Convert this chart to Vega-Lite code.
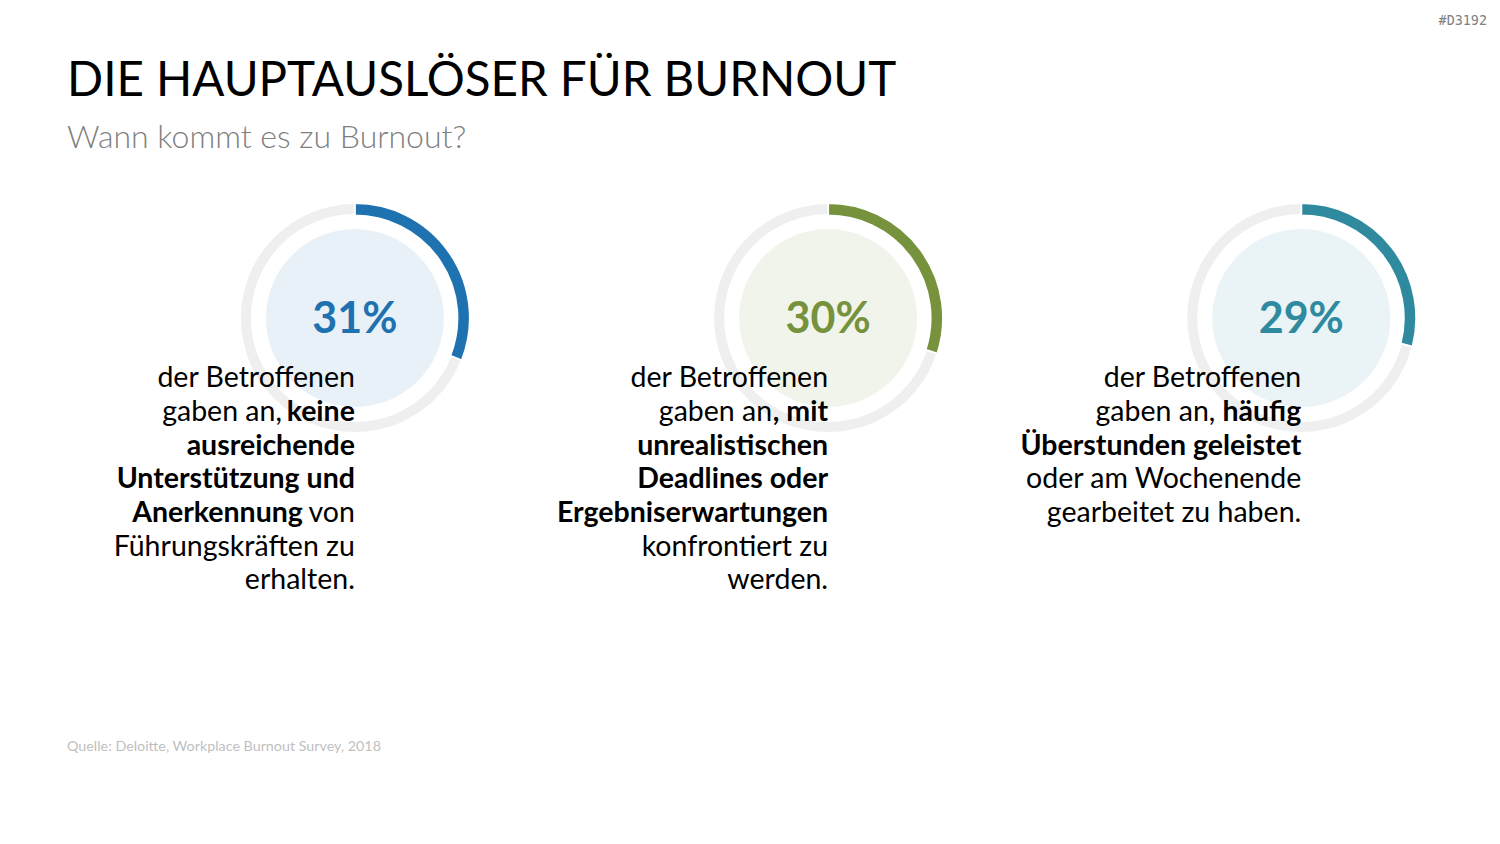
{
  "$schema": "https://vega.github.io/schema/vega-lite/v6.json",
  "width": 1500,
  "height": 844,
  "autosize": "none",
  "padding": 0,
  "background": "#ffffff",
  "config": {"view": {"stroke": null}, "text": {"font": "Lato"}},
  "datasets": {
    "findings": [
      {"panel": 1, "share": 0.31},
      {"panel": 2, "share": 0.30},
      {"panel": 3, "share": 0.29}
    ],
    "lines": [
      {"panel": 1, "line": 1, "text": "der Betroffenen", "emphasis": false},
      {"panel": 1, "line": 2, "text": "gaben an,", "emphasis": false, "lead": true},
      {"panel": 1, "line": 2, "text": "keine", "emphasis": true},
      {"panel": 1, "line": 3, "text": "ausreichende", "emphasis": true},
      {"panel": 1, "line": 4, "text": "Unterstützung und", "emphasis": true},
      {"panel": 1, "line": 5, "text": "Anerkennung", "emphasis": true, "lead": true},
      {"panel": 1, "line": 5, "text": "von", "emphasis": false},
      {"panel": 1, "line": 6, "text": "Führungskräften zu", "emphasis": false},
      {"panel": 1, "line": 7, "text": "erhalten.", "emphasis": false},
      {"panel": 2, "line": 1, "text": "der Betroffenen", "emphasis": false},
      {"panel": 2, "line": 2, "text": "gaben an", "emphasis": false, "lead": true},
      {"panel": 2, "line": 2, "text": ", mit", "emphasis": true},
      {"panel": 2, "line": 3, "text": "unrealistischen", "emphasis": true},
      {"panel": 2, "line": 4, "text": "Deadlines oder", "emphasis": true},
      {"panel": 2, "line": 5, "text": "Ergebniserwartungen", "emphasis": true},
      {"panel": 2, "line": 6, "text": "konfrontiert zu", "emphasis": false},
      {"panel": 2, "line": 7, "text": "werden.", "emphasis": false},
      {"panel": 3, "line": 1, "text": "der Betroffenen", "emphasis": false},
      {"panel": 3, "line": 2, "text": "gaben an,", "emphasis": false, "lead": true},
      {"panel": 3, "line": 2, "text": "häufig", "emphasis": true},
      {"panel": 3, "line": 3, "text": "Überstunden geleistet", "emphasis": true},
      {"panel": 3, "line": 4, "text": "oder am Wochenende", "emphasis": false},
      {"panel": 3, "line": 5, "text": "gearbeitet zu haben.", "emphasis": false}
    ],
    "notes": [
      {"role": "title", "text": "DIE HAUPTAUSLÖSER FÜR BURNOUT"},
      {"role": "subtitle", "text": "Wann kommt es zu Burnout?"},
      {"role": "source", "text": "Quelle: Deloitte, Workplace Burnout Survey, 2018"},
      {"role": "code", "text": "#D3192"}
    ]
  },
  "layer": [
    {
      "data": {"name": "findings"},
      "mark": {"type": "arc", "radius": 89, "radius2": 0, "theta": 0, "theta2": 6.2832, "opacity": 0.1},
      "encoding": {
        "x": {"field": "panel", "type": "quantitative", "stack": null, "scale": {"domain": [0.25, 3.42], "nice": false, "zero": false}, "axis": null},
        "y": {"datum": -1.05, "type": "quantitative", "scale": {"domain": [-10.49, 14.56], "nice": false, "zero": false, "reverse": true}, "axis": null},
        "color": {"field": "panel", "type": "nominal", "scale": {"domain": [1, 2, 3], "range": ["#1f72b0", "#76923c", "#2f8a9f"]}, "legend": null}
      }
    },
    {
      "data": {"name": "findings"},
      "mark": {"type": "arc", "radius": 114, "radius2": 104, "theta": 0, "theta2": 6.2832, "color": "#efefef"},
      "encoding": {
        "x": {"field": "panel", "type": "quantitative", "stack": null, "scale": {"domain": [0.25, 3.42], "nice": false, "zero": false}},
        "y": {"datum": -1.05, "type": "quantitative", "scale": {"domain": [-10.49, 14.56], "nice": false, "zero": false, "reverse": true}}
      }
    },
    {
      "data": {"name": "findings"},
      "mark": {"type": "arc", "radius": 115, "radius2": 102.5, "stroke": "#ffffff", "strokeWidth": 2},
      "encoding": {
        "x": {"field": "panel", "type": "quantitative", "stack": null, "scale": {"domain": [0.25, 3.42], "nice": false, "zero": false}},
        "y": {"datum": -1.05, "type": "quantitative", "scale": {"domain": [-10.49, 14.56], "nice": false, "zero": false, "reverse": true}},
        "theta": {"field": "share", "type": "quantitative", "stack": null, "scale": {"domain": [0, 1], "range": [0, 6.2832]}},
        "color": {"field": "panel", "type": "nominal"}
      }
    },
    {
      "data": {"name": "findings"},
      "mark": {"type": "text", "fontSize": 43, "fontWeight": "bold", "align": "center", "baseline": "alphabetic"},
      "encoding": {
        "x": {"field": "panel", "type": "quantitative", "scale": {"domain": [0.25, 3.42], "nice": false, "zero": false}},
        "y": {"datum": -0.607, "type": "quantitative", "scale": {"domain": [-10.49, 14.56], "nice": false, "zero": false, "reverse": true}},
        "text": {"field": "share", "type": "quantitative", "format": ".0%"},
        "color": {"field": "panel", "type": "nominal"}
      }
    },
    {
      "data": {"name": "lines"},
      "transform": [{"filter": "!datum.emphasis && !datum.lead"}],
      "mark": {"type": "text", "fontSize": 28.5, "align": "right", "baseline": "alphabetic", "color": "#000000"},
      "encoding": {
        "x": {"field": "panel", "type": "quantitative", "scale": {"domain": [0.25, 3.42], "nice": false, "zero": false}},
        "y": {"field": "line", "type": "quantitative", "scale": {"domain": [-10.49, 14.56], "nice": false, "zero": false, "reverse": true}},
        "text": {"field": "text", "type": "nominal"}
      }
    },
    {
      "data": {"name": "lines"},
      "transform": [{"filter": "datum.emphasis && !datum.lead"}],
      "mark": {"type": "text", "fontSize": 28.5, "fontWeight": "bold", "align": "right", "baseline": "alphabetic", "color": "#000000"},
      "encoding": {
        "x": {"field": "panel", "type": "quantitative", "scale": {"domain": [0.25, 3.42], "nice": false, "zero": false}},
        "y": {"field": "line", "type": "quantitative", "scale": {"domain": [-10.49, 14.56], "nice": false, "zero": false, "reverse": true}},
        "text": {"field": "text", "type": "nominal"}
      }
    },
    {
      "data": {"name": "lines"},
      "transform": [{"filter": "datum.lead && datum.panel == 1 && datum.line == 2"}],
      "mark": {"type": "text", "fontSize": 28.5, "align": "right", "baseline": "alphabetic", "color": "#000000", "dx": -73},
      "encoding": {
        "x": {"field": "panel", "type": "quantitative", "scale": {"domain": [0.25, 3.42], "nice": false, "zero": false}},
        "y": {"field": "line", "type": "quantitative", "scale": {"domain": [-10.49, 14.56], "nice": false, "zero": false, "reverse": true}},
        "text": {"field": "text", "type": "nominal"}
      }
    },
    {
      "data": {"name": "lines"},
      "transform": [{"filter": "datum.lead && datum.panel == 2 && datum.line == 2"}],
      "mark": {"type": "text", "fontSize": 28.5, "align": "right", "baseline": "alphabetic", "color": "#000000", "dx": -56},
      "encoding": {
        "x": {"field": "panel", "type": "quantitative", "scale": {"domain": [0.25, 3.42], "nice": false, "zero": false}},
        "y": {"field": "line", "type": "quantitative", "scale": {"domain": [-10.49, 14.56], "nice": false, "zero": false, "reverse": true}},
        "text": {"field": "text", "type": "nominal"}
      }
    },
    {
      "data": {"name": "lines"},
      "transform": [{"filter": "datum.lead && datum.panel == 3 && datum.line == 2"}],
      "mark": {"type": "text", "fontSize": 28.5, "align": "right", "baseline": "alphabetic", "color": "#000000", "dx": -86},
      "encoding": {
        "x": {"field": "panel", "type": "quantitative", "scale": {"domain": [0.25, 3.42], "nice": false, "zero": false}},
        "y": {"field": "line", "type": "quantitative", "scale": {"domain": [-10.49, 14.56], "nice": false, "zero": false, "reverse": true}},
        "text": {"field": "text", "type": "nominal"}
      }
    },
    {
      "data": {"name": "lines"},
      "transform": [{"filter": "datum.lead && datum.panel == 1 && datum.line == 5"}],
      "mark": {"type": "text", "fontSize": 28.5, "fontWeight": "bold", "align": "right", "baseline": "alphabetic", "color": "#000000", "dx": -52},
      "encoding": {
        "x": {"field": "panel", "type": "quantitative", "scale": {"domain": [0.25, 3.42], "nice": false, "zero": false}},
        "y": {"field": "line", "type": "quantitative", "scale": {"domain": [-10.49, 14.56], "nice": false, "zero": false, "reverse": true}},
        "text": {"field": "text", "type": "nominal"}
      }
    },
    {
      "data": {"name": "notes"},
      "transform": [{"filter": "datum.role == 'title'"}],
      "mark": {"type": "text", "fontSize": 47.5, "align": "left", "baseline": "alphabetic", "color": "#000000"},
      "encoding": {
        "x": {"datum": 0.3916, "type": "quantitative", "scale": {"domain": [0.25, 3.42], "nice": false, "zero": false}},
        "y": {"datum": -7.64, "type": "quantitative", "scale": {"domain": [-10.49, 14.56], "nice": false, "zero": false, "reverse": true}},
        "text": {"field": "text", "type": "nominal"}
      }
    },
    {
      "data": {"name": "notes"},
      "transform": [{"filter": "datum.role == 'subtitle'"}],
      "mark": {"type": "text", "fontSize": 32, "fontWeight": 300, "align": "left", "baseline": "alphabetic", "color": "#7f7f7f"},
      "encoding": {
        "x": {"datum": 0.3916, "type": "quantitative", "scale": {"domain": [0.25, 3.42], "nice": false, "zero": false}},
        "y": {"datum": -6.097, "type": "quantitative", "scale": {"domain": [-10.49, 14.56], "nice": false, "zero": false, "reverse": true}},
        "text": {"field": "text", "type": "nominal"}
      }
    },
    {
      "data": {"name": "notes"},
      "transform": [{"filter": "datum.role == 'source'"}],
      "mark": {"type": "text", "fontSize": 14.3, "align": "left", "baseline": "alphabetic", "color": "#bfbfbf"},
      "encoding": {
        "x": {"datum": 0.3916, "type": "quantitative", "scale": {"domain": [0.25, 3.42], "nice": false, "zero": false}},
        "y": {"datum": 11.8, "type": "quantitative", "scale": {"domain": [-10.49, 14.56], "nice": false, "zero": false, "reverse": true}},
        "text": {"field": "text", "type": "nominal"}
      }
    },
    {
      "data": {"name": "notes"},
      "transform": [{"filter": "datum.role == 'code'"}],
      "mark": {"type": "text", "font": "DejaVu Sans Mono", "fontSize": 13.4, "align": "right", "baseline": "alphabetic", "color": "#808080"},
      "encoding": {
        "x": {"datum": 3.3925, "type": "quantitative", "scale": {"domain": [0.25, 3.42], "nice": false, "zero": false}},
        "y": {"datum": -9.75, "type": "quantitative", "scale": {"domain": [-10.49, 14.56], "nice": false, "zero": false, "reverse": true}},
        "text": {"field": "text", "type": "nominal"}
      }
    }
  ]
}
